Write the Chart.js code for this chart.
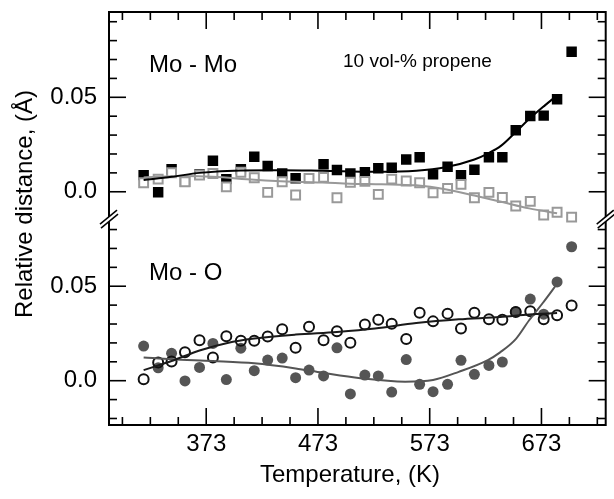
<!DOCTYPE html>
<html>
<head>
<meta charset="utf-8">
<script src="https://cdn.jsdelivr.net/npm/chart.js@4.4.1/dist/chart.umd.min.js"></script>
<style>
  html, body { margin: 0; padding: 0; background: #fff; }
</style>
</head>
<body>
<canvas id="chart" width="614" height="499"></canvas>
<script>
// measurement temperatures (K)
const temperatures = [317, 330, 342, 354, 367, 379, 391, 404, 416, 428, 441, 453, 465, 478, 490, 502,
                      515, 527, 539, 552, 564, 576, 589, 601, 613, 626, 638, 650, 663, 675, 687, 700];

// Mo - Mo relative distance (A), upper panel
const moMoFilled = [0.0088, -0.0002, 0.0119, 0.0053, 0.0092, 0.0164, 0.0067, 0.0119, 0.0185, 0.0136, 0.0097, 0.0071, null, 0.0146, 0.0115, 0.0097,
                    0.0103, 0.0124, 0.0127, 0.0171, 0.0183, 0.0092, 0.0132, 0.0087, 0.0117, 0.0183, 0.0183, 0.0326, 0.0401, 0.0403, 0.0490, 0.0741];
const moMoOpen = [0.0048, 0.0067, 0.0101, 0.0053, 0.0088, 0.0097, 0.0026, 0.0103, 0.0074, -0.0003, 0.0053, -0.0017, 0.0071, 0.0076, -0.0032, 0.0050,
                  0.0055, -0.0014, 0.0067, 0.0057, 0.0048, -0.0005, 0.0018, 0.0039, -0.0032, -0.0003, -0.0030, -0.0075, -0.0051, -0.0123, -0.0108, -0.0134];

// Mo - O relative distance (A), lower panel
const moOFilled = [0.0183, 0.0068, 0.0145, -0.0001, 0.0070, 0.0197, 0.0006, 0.0172, 0.0053, 0.0109, 0.0120, 0.0016, 0.0056, 0.0025, 0.0174, -0.0070,
                   0.0030, 0.0025, -0.0060, 0.0112, -0.0019, -0.0058, -0.0019, 0.0108, 0.0034, 0.0081, 0.0099, 0.0365, 0.0432, 0.0352, 0.0523, 0.0709];
const moOOpen = [0.0008, 0.0096, 0.0102, 0.0151, 0.0214, 0.0123, 0.0235, 0.0212, 0.0211, 0.0234, 0.0272, 0.0174, 0.0286, 0.0214, 0.0262, 0.0201,
                 0.0298, 0.0322, 0.0302, 0.0221, 0.0360, 0.0314, 0.0355, 0.0276, 0.0360, 0.0325, 0.0323, 0.0363, 0.0367, 0.0325, 0.0346, 0.0398];

const moMoFilledFitT = [317, 342, 367, 404, 440, 477, 524, 561, 588, 613, 625, 637, 650, 662, 674, 687];
const moMoFilledFit = [0.0062, 0.0079, 0.0100, 0.0113, 0.0114, 0.0111, 0.0106, 0.0111, 0.0131, 0.0171, 0.0202, 0.0244, 0.0316, 0.0385, 0.0447, 0.0510];
const moMoOpenFitT = [317, 354, 379, 416, 453, 477, 502, 530, 561, 588, 613, 637, 662, 687];
const moMoOpenFit = [0.0076, 0.0083, 0.0079, 0.0064, 0.0053, 0.0049, 0.0043, 0.0040, 0.0034, 0.0012, -0.0020, -0.0053, -0.0088, -0.0114];
const moOOpenFitT = [317, 342, 367, 392, 416, 453, 490, 524, 561, 599, 636, 662, 687];
const moOOpenFit = [0.0056, 0.0104, 0.0160, 0.0200, 0.0223, 0.0244, 0.0258, 0.0276, 0.0305, 0.0325, 0.0337, 0.0350, 0.0358];
const moOFilledFitT = [317, 342, 379, 416, 453, 477, 511, 551, 576, 599, 625, 636, 650, 662, 674, 687];
const moOFilledFit = [0.0123, 0.0113, 0.0104, 0.0092, 0.0065, 0.0042, 0.0013, -0.0005, 0.0004, 0.0047, 0.0109, 0.0150, 0.0220, 0.0320, 0.0410, 0.0513];

// axis ticks
const xTicks = [298, 323, 348, 373, 398, 423, 448, 473, 498, 523, 548, 573, 598, 623, 648, 673, 698, 723];
const xLabelled = [373, 473, 573, 673];
const yTicksHundredths = [-2, -1, 0, 1, 2, 3, 4, 5, 6, 7, 8, 10, 11, 12, 13, 14, 15, 16, 17, 18, 19];
const yLabels = new Map([[0, '0.0'], [5, '0.05'], [10, '0.0'], [15, '0.05']]);

const TOP_SHIFT = 0.1;   // upper panel sits 0.1 higher on the shared axis
const BREAK_AT = 0.0855;
const FONT = "'Liberation Sans', Arial, Helvetica, sans-serif";

const pts = (ts, vs, shift) => ts.map((t, i) => ({x: t, y: vs[i] === null ? null : vs[i] + shift}));

const decorations = {
  id: 'decorations',
  afterDraw(chart) {
    const ctx = chart.ctx;
    const a = chart.chartArea;
    const xs = chart.scales.x, ys = chart.scales.y;
    const seg = (x1, y1, x2, y2) => { ctx.beginPath(); ctx.moveTo(x1, y1); ctx.lineTo(x2, y2); ctx.stroke(); };
    ctx.save();
    ctx.setLineDash([]);
    ctx.strokeStyle = '#000';
    ctx.lineWidth = 1.6;
    // inward ticks on all four sides
    xTicks.forEach(v => {
      const px = xs.getPixelForValue(v);
      const len = xLabelled.includes(v) ? 17 : 8;
      seg(px, a.bottom, px, a.bottom - len);
      seg(px, a.top, px, a.top + len);
    });
    yTicksHundredths.forEach(h => {
      const py = ys.getPixelForValue(h / 100);
      const len = yLabels.has(h) ? 17 : 8;
      seg(a.left, py, a.left + len, py);
      seg(a.right, py, a.right - len, py);
    });
    ctx.lineWidth = 2;
    ctx.strokeRect(a.left, a.top, a.right - a.left, a.bottom - a.top);

    // axis break marks
    const by = ys.getPixelForValue(BREAK_AT);
    [a.left, a.right].forEach(bx => {
      ctx.fillStyle = '#fff';
      ctx.beginPath();
      ctx.moveTo(bx - 9, by + 5); ctx.lineTo(bx + 8, by - 9);
      ctx.lineTo(bx + 9, by - 5); ctx.lineTo(bx - 8, by + 9);
      ctx.closePath(); ctx.fill();
      ctx.lineWidth = 1.5;
      seg(bx - 9, by + 5, bx + 8, by - 9);
      seg(bx - 8, by + 9, bx + 9, by - 5);
    });

    // panel labels
    ctx.fillStyle = '#000';
    ctx.textBaseline = 'alphabetic';
    ctx.textAlign = 'left';
    ctx.font = '24px ' + FONT;
    ctx.fillText('Mo - Mo', a.left + 40, a.top + 60);
    ctx.fillText('Mo - O', a.left + 40, a.top + 268);
    ctx.font = '19px ' + FONT;
    ctx.fillText('10 vol-% propene', a.left + 234, a.top + 55);

    // axis titles
    ctx.font = '24px ' + FONT;
    ctx.textAlign = 'center';
    ctx.fillText('Temperature, (K)', 350, 482);
    ctx.translate(32, 204);
    ctx.rotate(-Math.PI / 2);
    ctx.fillText('Relative distance, (Å)', 0, 0);
    ctx.restore();
  }
};

const fitLine = (ts, vs, shift, color) => ({
  type: 'scatter', data: pts(ts, vs, shift), showLine: true, borderColor: color, borderWidth: 2,
  pointRadius: 0, cubicInterpolationMode: 'monotone', fill: false, order: 0
});

new Chart(document.getElementById('chart'), {
  type: 'scatter',
  data: {
    datasets: [
      fitLine(moMoFilledFitT, moMoFilledFit, TOP_SHIFT, '#000'),
      fitLine(moMoOpenFitT, moMoOpenFit, TOP_SHIFT, '#999'),
      fitLine(moOOpenFitT, moOOpenFit, 0, '#1a1a1a'),
      fitLine(moOFilledFitT, moOFilledFit, 0, '#555'),
      { label: 'Mo-Mo open', data: pts(temperatures, moMoOpen, TOP_SHIFT), pointStyle: 'rect', pointRadius: 6.3,
        borderColor: '#999', borderWidth: 2, backgroundColor: '#fff', order: 1 },
      { label: 'Mo-Mo filled', data: pts(temperatures, moMoFilled, TOP_SHIFT), pointStyle: 'rect', pointRadius: 7.4,
        borderWidth: 0, backgroundColor: '#000', order: 2 },
      { label: 'Mo-O open', data: pts(temperatures, moOOpen, 0), pointStyle: 'circle', pointRadius: 5,
        borderColor: '#111', borderWidth: 2, backgroundColor: 'rgba(255,255,255,0)', order: 1 },
      { label: 'Mo-O filled', data: pts(temperatures, moOFilled, 0), pointStyle: 'circle', pointRadius: 5.5,
        borderWidth: 0, backgroundColor: '#555', order: 2 }
    ]
  },
  options: {
    responsive: false,
    animation: false,
    devicePixelRatio: 1,
    layout: { padding: { top: 12, right: 1, left: 0, bottom: 0 } },
    plugins: { legend: { display: false }, tooltip: { enabled: false } },
    scales: {
      x: {
        type: 'linear', min: 286, max: 730.5,
        afterBuildTicks: s => { s.ticks = xTicks.map(v => ({value: v})); },
        afterFit: s => { s.height = 74; s.paddingLeft = 0; s.paddingRight = 0; },
        grid: { display: false, drawTicks: false },
        border: { display: false },
        ticks: {
          autoSkip: false, maxRotation: 0, padding: 5, color: '#000',
          font: { family: FONT, size: 24 },
          callback: v => xLabelled.includes(v) ? String(v) : ''
        }
      },
      y: {
        type: 'linear', min: -0.02345, max: 0.19515,
        afterBuildTicks: s => { s.ticks = yTicksHundredths.map(h => ({value: h / 100})); },
        afterFit: s => { s.width = 109; s.paddingTop = 0; s.paddingBottom = 0; },
        grid: { display: false, drawTicks: false },
        border: { display: false },
        ticks: {
          autoSkip: false, padding: 12, color: '#000',
          font: { family: FONT, size: 24 },
          callback: v => yLabels.get(Math.round(v * 100)) ?? ''
        }
      }
    }
  },
  plugins: [decorations]
});
</script>
</body>
</html>
